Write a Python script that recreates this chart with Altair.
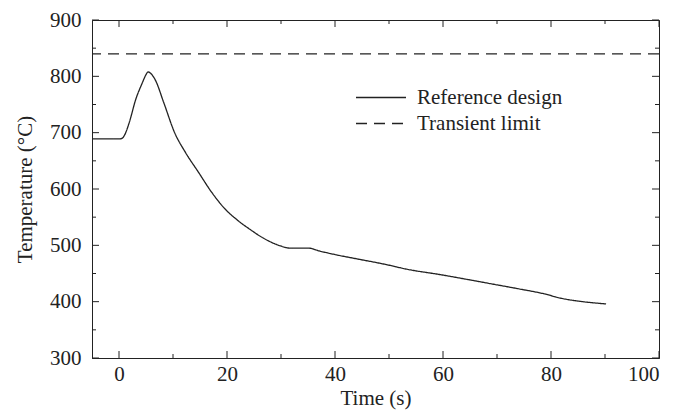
import altair as alt
import pandas as pd

# ---- data ----
time_s = [-5, 0.2, 0.7, 1.1, 1.9, 3.1, 4.3, 5.0, 5.4, 5.9, 6.7, 8.3, 10.3, 12.3, 14.7,
          17.1, 19.5, 21.9, 24.3, 26.7, 29.9, 31.7, 35.1, 37.1, 40.3, 43.5, 49.9,
          53.1, 59.5, 65.9, 69.9, 73.9, 78.7, 81.9, 85.9, 90.2]
temp_c = [689, 689, 691, 697, 718, 759, 788, 803, 808, 805, 794, 753, 700, 665, 630,
          595, 566, 545, 528, 513, 499, 495, 495, 490, 483, 477, 465,
          458, 448, 437, 430, 423, 414, 406, 400, 396]
limit_c = [840]
series_names = ["Reference design", "Transient limit"]

x_major = [0, 20, 40, 60, 80, 100]
x_minor = [10, 30, 50, 70, 90]
y_major = [300, 400, 500, 600, 700, 800, 900]
y_minor = [350, 450, 550, 650, 750, 850]

W, H = 567, 338
FONT = "Liberation Serif"
INK = "#222222"

line_df = pd.DataFrame({"t": time_s, "T": temp_c, "series": series_names[0]})
limit_df = pd.DataFrame({"T": limit_c, "series": series_names[1]})

xs = alt.Scale(domain=[-5, 100], nice=False, zero=False)
ys = alt.Scale(domain=[300, 900], nice=False, zero=False)
dash = alt.Scale(domain=series_names, range=[[1, 0], [11, 7]])

legend = alt.Legend(
    title=None, orient="none", legendX=263, legendY=64,
    symbolType="M-1,0H3", symbolSize=625, symbolStrokeWidth=1.3,
    symbolStrokeColor=INK, symbolFillColor="transparent",
    labelFont=FONT, labelFontSize=21, labelColor=INK,
    labelOffset=35, rowPadding=2,
)

main = alt.Chart(line_df).mark_line(color=INK, strokeWidth=1.3, interpolate="monotone").encode(
    x=alt.X("t:Q", scale=xs, axis=alt.Axis(
        orient="bottom", values=x_major, ticks=False, grid=False, title="Time (s)",
        labelPadding=5, titlePadding=3, domainColor=INK)),
    y=alt.Y("T:Q", scale=ys, axis=alt.Axis(
        orient="left", values=y_major, ticks=False, grid=False, title="Temperature (°C)",
        labelPadding=11, titlePadding=14, domainColor=INK)),
    strokeDash=alt.StrokeDash("series:N", scale=dash, legend=legend),
)

rule = alt.Chart(limit_df).mark_rule(color=INK, strokeWidth=1.3).encode(
    y=alt.Y("T:Q", scale=ys, axis=None),
    strokeDash=alt.StrokeDash("series:N", scale=dash, legend=legend),
)


def x_ticks(vals, length, top):
    y0, y1 = (0, length) if top else (H, H - length)
    return alt.Chart(pd.DataFrame({"v": vals})).mark_rule(color=INK, strokeWidth=1).encode(
        x=alt.X("v:Q", scale=xs, axis=None), y=alt.value(y0), y2=alt.value(y1))


def y_ticks(vals, length, right):
    x0, x1 = (W, W - length) if right else (0, length)
    return alt.Chart(pd.DataFrame({"v": vals})).mark_rule(color=INK, strokeWidth=1).encode(
        y=alt.Y("v:Q", scale=ys, axis=None), x=alt.value(x0), x2=alt.value(x1))


chart = alt.layer(
    main, rule,
    x_ticks(x_major, 7, False), x_ticks(x_minor, 4, False),
    x_ticks(x_major, 7, True), x_ticks(x_minor, 4, True),
    y_ticks(y_major, 7, False), y_ticks(y_minor, 4, False),
    y_ticks(y_major, 7, True), y_ticks(y_minor, 4, True),
).resolve_axis(x="independent", y="independent").properties(
    width=W, height=H,
    autosize=alt.AutoSizeParams(type="none"),
    padding={"left": 84, "top": 12, "right": 16, "bottom": 54},
    background="white",
).configure_view(stroke=INK, strokeWidth=1).configure_axis(
    labelFont=FONT, labelFontSize=21, labelColor=INK,
    titleFont=FONT, titleFontSize=21, titleFontWeight="normal", titleColor=INK,
)

chart.save("out.html", embed_options={"renderer": "svg", "actions": False})
